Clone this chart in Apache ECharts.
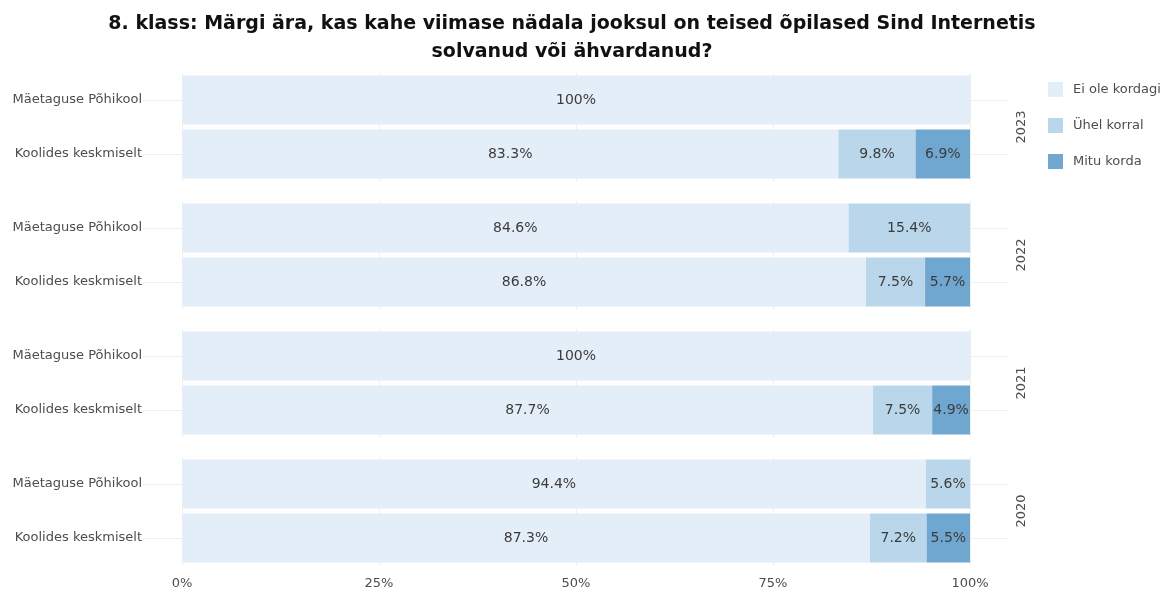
<!DOCTYPE html>
<html>
<head>
<meta charset="utf-8">
<script src="https://cdn.jsdelivr.net/npm/echarts@6/dist/echarts.min.js"></script>
<style>html,body{margin:0;padding:0;background:#fff;}#c{width:1164px;height:590px;}</style>
</head>
<body>
<div id="c"></div>
<script>
const titleText = '8. klass: Märgi ära, kas kahe viimase nädala jooksul on teised õpilased Sind Internetis\nsolvanud või ähvardanud?';
const years = ['2023', '2022', '2021', '2020'];
const categories = ['Mäetaguse Põhikool', 'Koolides keskmiselt'];
const responses = ['Ei ole kordagi', 'Ühel korral', 'Mitu korda'];
// per year: [Mäetaguse Põhikool, Koolides keskmiselt]
const eiOleKordagi = [[100, 83.3], [84.6, 86.8], [100, 87.7], [94.4, 87.3]];
const uhelKorral = [[0, 9.8], [15.4, 7.5], [0, 7.5], [5.6, 7.2]];
const mituKorda = [[0, 6.9], [0, 5.7], [0, 4.9], [0, 5.5]];

const colors = ['#e4eef8', '#b9d6ea', '#6fa7d0'];
const values = [eiOleKordagi, uhelKorral, mituKorda];
const FONT = 'DejaVu Sans';

const pitch = 128, firstTop = 73, gh = 108;
const grids = [], xAxes = [], yAxes = [], series = [];
// helper axis for the panel-wide row lines: 5 evenly spaced ticks, rows sit at ticks 1 and 3
const rowLineSlots = ['e0', 'r0', 'e1', 'r1', 'e2'];

years.forEach((yr, f) => {
  const top = firstTop + f * pitch;
  grids.push({left: 143, width: 866, top: top, height: gh, z: 0});   // wide panel
  grids.push({left: 182, width: 788, top: top, height: gh, z: 1});   // data range 0..100
  const last = f === years.length - 1;
  // wide panel axes
  xAxes.push({gridIndex: 2 * f, type: 'value', min: 0, max: 1, show: false});
  yAxes.push({
    gridIndex: 2 * f, type: 'category', data: rowLineSlots, boundaryGap: false, position: 'right',
    axisLine: {show: false}, axisTick: {show: false}, axisLabel: {show: false},
    splitLine: {show: true, interval: (i) => i === 1 || i === 3, lineStyle: {color: '#eeeeee', width: 1}},
    name: yr, nameLocation: 'middle', nameRotate: 90, nameGap: 6,
    nameTextStyle: {color: '#4d4d4d', fontSize: 13, fontFamily: FONT}
  });
  // data axes
  xAxes.push({
    gridIndex: 2 * f + 1, type: 'value', min: 0, max: 100, interval: 25,
    axisLine: {show: false}, axisTick: {show: false},
    axisLabel: {show: last, formatter: v => v + '%', color: '#4d4d4d', fontSize: 13, fontFamily: FONT, margin: 12},
    splitLine: {show: true, lineStyle: {color: '#eeeeee', width: 1}}
  });
  yAxes.push({
    gridIndex: 2 * f + 1, type: 'category', data: categories, inverse: true,
    axisLine: {show: false}, axisTick: {show: false}, splitLine: {show: false},
    axisLabel: {color: '#4d4d4d', fontSize: 13, fontFamily: FONT, margin: 40}
  });
  responses.forEach((r, k) => {
    series.push({
      type: 'bar', name: r, stack: 's' + f, xAxisIndex: 2 * f + 1, yAxisIndex: 2 * f + 1,
      barCategoryGap: '9%', z: 2,
      itemStyle: {color: colors[k]},
      data: values[k][f].map(v => v === 0 ? null : v),
      label: {
        show: true, position: 'inside', color: '#3c3c3c', fontSize: 14, fontFamily: FONT,
        formatter: p => p.value + '%'
      }
    });
  });
});

const chart = echarts.init(document.getElementById('c'), null, {renderer: 'canvas'});
chart.setOption({
  animation: false,
  backgroundColor: '#ffffff',
  color: colors,
  title: {
    text: titleText, left: 567, top: 5, textAlign: 'center',
    textStyle: {fontFamily: FONT, fontWeight: 'bold', fontSize: 19, lineHeight: 28, color: '#111111'}
  },
  legend: {
    data: responses, orient: 'vertical', left: 1043, top: 77,
    itemWidth: 15, itemHeight: 15, itemGap: 21, icon: 'rect',
    textStyle: {color: '#4d4d4d', fontSize: 13, fontFamily: FONT, padding: [0, 0, 0, 5]}
  },
  grid: grids,
  xAxis: xAxes,
  yAxis: yAxes,
  series: series
});
</script>
</body>
</html>
